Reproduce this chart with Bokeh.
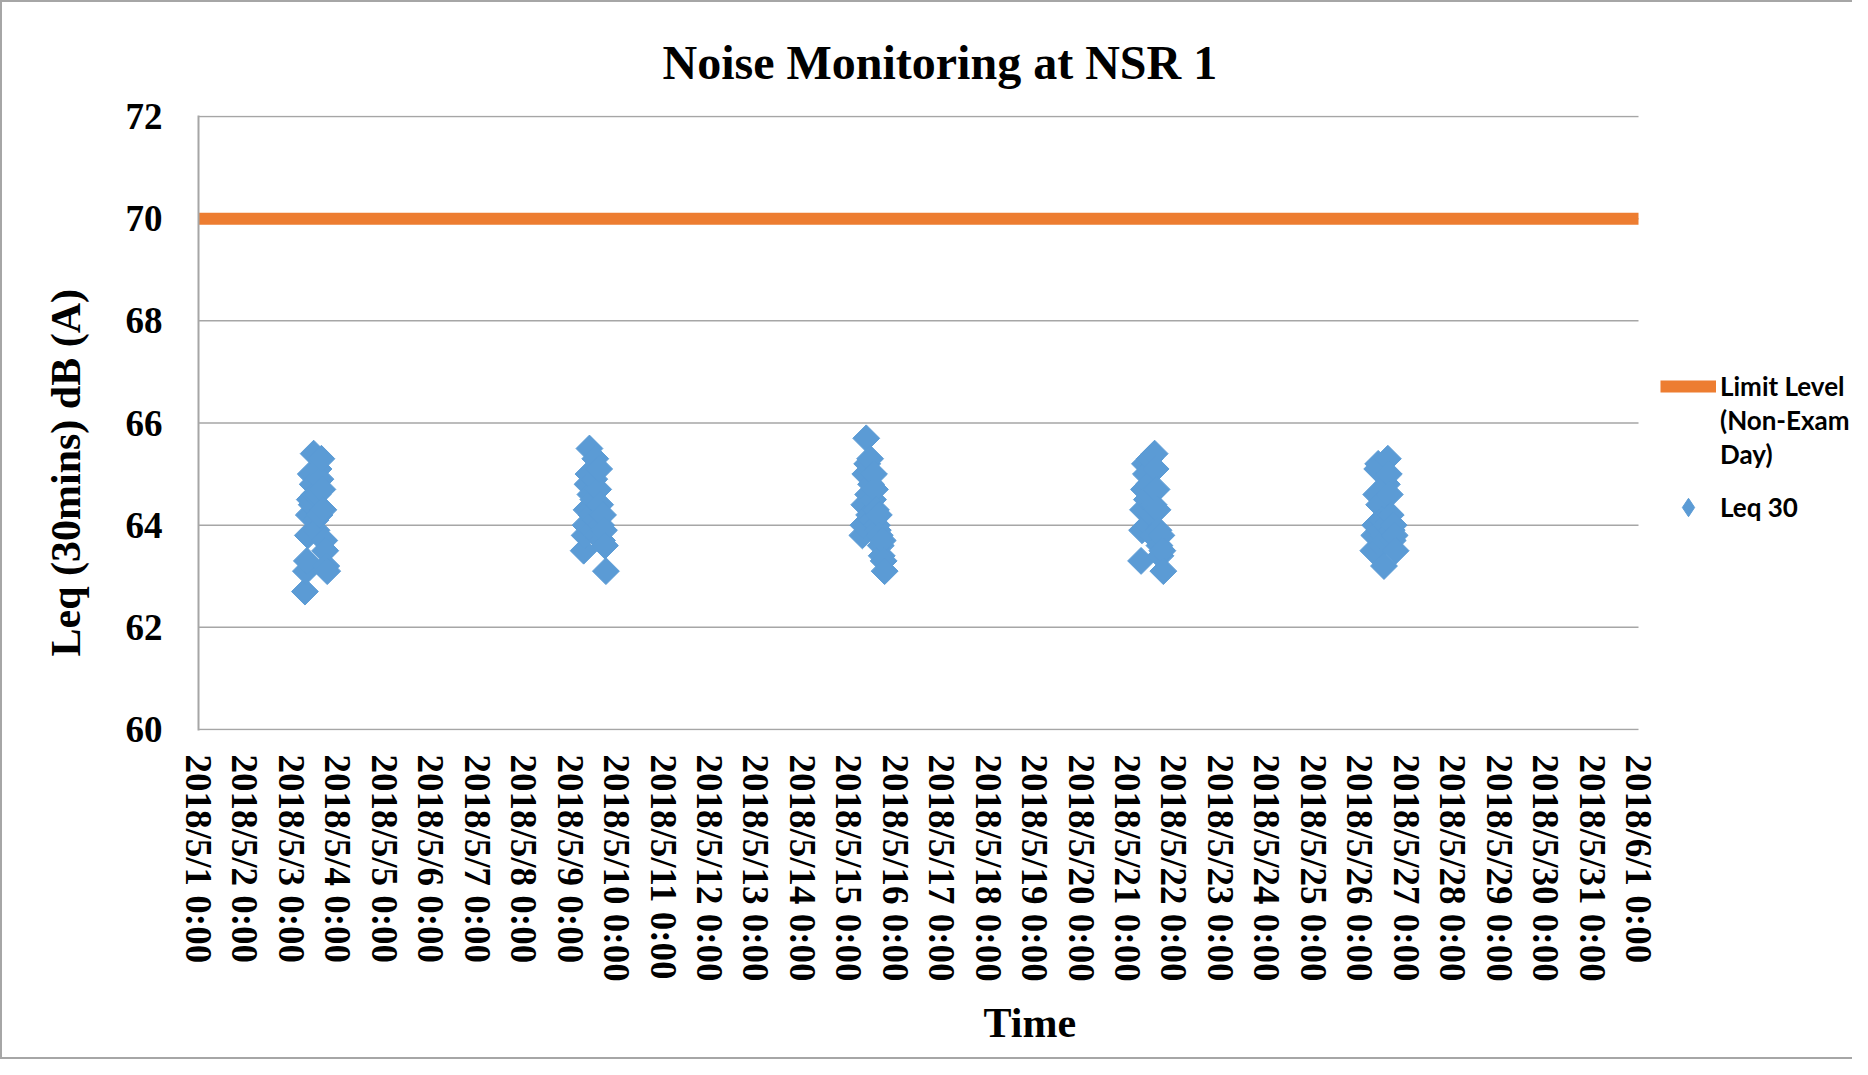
import numpy as np
from bokeh.plotting import figure
from bokeh.models import Range1d, FixedTicker, Legend, LegendItem, Title
from bokeh.embed import file_html
from bokeh.resources import INLINE

# ---- data ----
tick_labels = ["2018/5/%d 0:00" % d for d in range(1, 32)] + ["2018/6/1 0:00"]
tick_days = list(range(0, 32))          # days since 2018/5/1 0:00
y_ticks = [60, 62, 64, 66, 68, 70, 72]

limit_level = 70.0

survey_day_offsets = [2, 8, 14, 20, 25]   # 5/3, 5/9, 5/15, 5/21, 5/26
survey_times = ["07:00", "07:30", "08:00", "08:30", "09:00", "09:30", "10:00", "10:30",
                "11:00", "11:30", "12:00", "12:30", "13:00", "13:30", "14:00", "14:30",
                "15:00", "15:30", "16:00", "16:30", "17:00", "17:30", "18:00", "18:30"]

leq_0503 = [62.7, 63.1, 63.3, 63.8, 64.2, 64.5, 65.0, 64.4, 64.8, 65.4, 64.6, 64.1,
            63.9, 64.6, 65.1, 64.2, 64.9, 65.3, 64.7, 64.3, 63.7, 63.5, 63.2, 63.1]
leq_0509 = [63.5, 63.8, 64.0, 64.3, 64.8, 65.0, 65.5, 64.6, 64.2, 63.9, 64.5, 64.9,
            65.3, 64.1, 63.8, 64.7, 65.1, 64.4, 64.0, 63.7, 64.2, 63.9, 63.6, 63.1]
leq_0515 = [63.8, 64.0, 64.4, 65.0, 65.7, 65.2, 64.6, 64.2, 65.3, 64.8, 64.1, 64.5,
            65.0, 64.7, 64.3, 64.0, 63.9, 64.2, 63.8, 63.6, 63.4, 63.7, 63.3, 63.1]
leq_0521 = [63.3, 63.9, 64.3, 64.7, 65.2, 65.0, 64.5, 64.0, 64.8, 65.3, 64.6, 64.2,
            63.8, 64.4, 65.4, 65.1, 64.7, 64.3, 63.9, 63.6, 63.4, 63.8, 63.5, 63.1]
leq_0526 = [63.5, 63.8, 64.0, 64.6, 65.1, 65.2, 64.4, 63.9, 63.6, 64.1, 63.8, 63.2,
            63.7, 64.0, 64.8, 65.3, 65.0, 64.6, 64.2, 63.9, 63.7, 64.0, 63.8, 63.5]
leq_series = [leq_0503, leq_0509, leq_0515, leq_0521, leq_0526]

limit_legend_lines = ["Limit Level", "(Non-Exam", "Day)"]
leq_legend_label = "Leq 30"

# ---- build x/y ----
def hours(t):
    h, m = t.split(":")
    return int(h) + int(m) / 60.0

xs, ys = [], []
for d, vals in zip(survey_day_offsets, leq_series):
    for t, v in zip(survey_times, vals):
        xs.append(d + hours(t) / 24.0)
        ys.append(v)

SERIF = "Liberation Serif"
SANS = "Lato"

W, H = 1852, 1059
BL, BR = 196, 2
AXIS_PX = 1440                         # pixel length of the date axis (5/1 .. 6/1)
frame_w = W - BL - BR
x_end = tick_days[-1] * frame_w / AXIS_PX   # frame extends to the right for the legend

p = figure(width=W, height=H, output_backend="svg", toolbar_location=None,
           x_range=Range1d(tick_days[0], x_end),
           y_range=Range1d(y_ticks[0] - 0.02, y_ticks[-1] + 0.02),
           min_border_left=BL, min_border_right=BR, min_border_top=113, min_border_bottom=331)
p.styles = {"border-left": "2px solid #a6a6a6",
            "border-top": "2px solid #a6a6a6",
            "border-bottom": "2px solid #a6a6a6",
            "box-sizing": "border-box"}
p.outline_line_color = None
p.background_fill_color = "white"

p.title = Title(text="Noise Monitoring at NSR 1", align="left", offset=464,
                text_font=SERIF, text_font_size="48px", text_font_style="bold",
                text_color="black", standoff=54, text_line_height=1.0)

# axes
p.xaxis.ticker = FixedTicker(ticks=tick_days)
p.xaxis.major_label_overrides = {d: lab for d, lab in zip(tick_days, tick_labels)}
p.xaxis.major_label_orientation = -np.pi / 2
p.xaxis.major_label_text_font = SERIF
p.xaxis.major_label_text_font_size = "37px"
p.xaxis.major_label_text_font_style = "bold"
p.xaxis.major_label_text_color = "black"
p.xaxis.major_label_standoff = 18
p.xaxis.axis_line_color = None

p.yaxis.ticker = FixedTicker(ticks=y_ticks)
p.yaxis.major_label_text_font = SERIF
p.yaxis.major_label_text_font_size = "37px"
p.yaxis.major_label_text_font_style = "bold"
p.yaxis.major_label_text_color = "black"
p.yaxis.major_label_standoff = 30
p.yaxis.axis_line_color = "#a6a6a6"
p.yaxis.axis_line_width = 2

for ax in (p.xaxis, p.yaxis):
    ax.major_tick_line_color = None
    ax.minor_tick_line_color = None

# axis titles (positioned as in the original chart)
x_title = Title(text="Time", align="left", offset=785,
                text_font=SERIF, text_font_size="42px", text_font_style="bold",
                text_color="black", standoff=26)
p.add_layout(x_title, "below")
y_title = Title(text="Leq (30mins) dB (A)", align="left", offset=74,
                text_font=SERIF, text_font_size="42px", text_font_style="bold",
                text_color="black", standoff=68)
p.add_layout(y_title, "left")

p.xgrid.grid_line_color = None
p.ygrid.grid_line_color = None

# horizontal gridlines limited to the date axis span
p.segment(x0=[tick_days[0]] * len(y_ticks), x1=[tick_days[-1]] * len(y_ticks),
          y0=y_ticks, y1=y_ticks, line_color="#a6a6a6", line_width=1.5)

# glyphs
limit_r = p.line(x=[tick_days[0], tick_days[-1]], y=[limit_level, limit_level],
                 line_color="#ED7D31", line_width=12, line_cap="butt")
pts_r = p.scatter(x=xs, y=ys, marker="square", size=19, angle=np.pi / 4,
                  fill_color="#5B9BD5", line_color="#5B9BD5")
# same points as diamonds, hidden, used only for the legend symbol
pts_legend_r = p.scatter(x=xs, y=ys, marker="diamond", size=19,
                         fill_color="#5B9BD5", line_color="#5B9BD5", visible=False)

legend_style = dict(border_line_color=None, background_fill_alpha=0,
                    label_text_font=SANS, label_text_font_size="26px",
                    label_text_font_style="bold", label_text_color="black",
                    glyph_width=56, padding=0, margin=0, label_standoff=4, spacing=0)

legend1 = Legend(items=[LegendItem(label=limit_legend_lines[0], renderers=[limit_r]),
                        LegendItem(label=limit_legend_lines[1], renderers=[]),
                        LegendItem(label=limit_legend_lines[2], renderers=[])],
                 location=(1462, 259), glyph_height=34, **legend_style)
legend2 = Legend(items=[LegendItem(label=leq_legend_label, renderers=[pts_legend_r])],
                 location=(1462, 200), glyph_height=46, **legend_style)
p.add_layout(legend1, "center")
p.add_layout(legend2, "center")

open("out.html", "w").write(file_html(p, INLINE))
